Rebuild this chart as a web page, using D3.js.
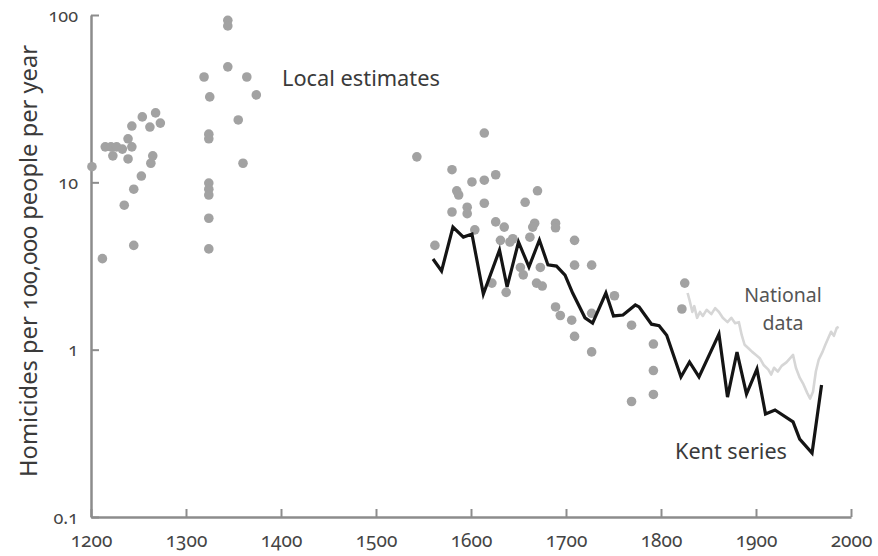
<!DOCTYPE html>
<html>
<head>
<meta charset="utf-8">
<script src="https://cdn.jsdelivr.net/npm/d3@7"></script>
<style>
  html, body { margin: 0; padding: 0; background: #fff; }
  svg { display: block; }
  text { font-family: "Noto Sans", "Open Sans", sans-serif; font-variant-numeric: oldstyle-nums; }
</style>
</head>
<body>
<svg id="chart" width="878" height="556"></svg>
<script>
// ---- Data ----
const localYears = [1201,1212,1245,1235,1245,1253,1263,1265,1239,1223,1215,1221,1227,1233,1243,1239,1243,1254,1262,1268,1273,
  1344,1344,1344,1319,1364,1325,1374,1355,1324,1324,1360,1324,1324,1324,1324,1324,
  1543,1562,1580,1585,1587,1580,1596,1596,1601,1614,1626,1614,1614,1604,1626,1635,1631,1644,1641,1622,1637,1657,1670,1667,1665,1662,1652,1655,1673,1669,1675,
  1689,1689,1709,1709,1727,1689,1694,1706,1727,1709,1727,1751,1769,1792,1792,1792,1769,1825,1822];
const localValues = [12.4,3.5,4.2,7.3,9.1,10.9,13.0,14.4,13.8,14.4,16.3,16.3,16.3,15.8,16.3,18.2,21.7,24.6,21.4,26,22.6,
  93,86,49,42.6,42.6,32.4,33.3,23.6,19.4,18.2,13.0,9.9,9.1,8.4,6.1,4.0,
  14.2,4.2,11.9,8.9,8.4,6.65,7.1,6.5,10.05,10.3,11.1,19.7,7.5,5.2,5.8,5.4,4.5,4.6,4.4,2.5,2.2,7.6,8.9,5.7,5.4,4.7,3.1,2.8,3.1,2.5,2.4,
  5.7,5.35,4.5,3.2,3.2,1.8,1.6,1.5,1.65,1.2,0.97,2.1,1.4,1.08,0.75,0.54,0.49,2.5,1.75];

const kentYears = [1560,1569,1581,1592,1601,1613,1630,1638,1650,1661,1672,1681,1690,1699,1707,1720,1728,1742,1750,1760,1773,1777,1790,1798,1806,1821,1830,1840,1861,1870,1880,1890,1901,1910,1920,1939,1946,1959,1969];
const kentValues = [3.48,2.95,5.41,4.71,4.91,2.15,3.94,2.37,4.40,3.12,4.52,3.21,3.16,2.79,2.18,1.55,1.44,2.18,1.59,1.61,1.85,1.80,1.42,1.39,1.22,0.687,0.844,0.687,1.24,0.521,0.968,0.543,0.766,0.413,0.436,0.370,0.292,0.241,0.615];

const nationalYears = [1828,1830,1833,1835,1838,1841,1844,1848,1853,1857,1861,1865,1870,1874,1878,1882,1885,1888,1892,1896,1900,1904,1908,1913,1916,1919,1923,1927,1932,1936,1939,1942,1946,1950,1954,1957,1960,1963,1966,1970,1973,1976,1979,1982,1985,1987];
const nationalValues = [2.18,1.98,1.68,1.82,1.55,1.68,1.59,1.73,1.63,1.77,1.68,1.55,1.46,1.55,1.44,1.46,1.22,1.07,1.02,0.97,0.93,0.89,0.81,0.76,0.71,0.78,0.74,0.80,0.84,0.89,0.93,0.78,0.68,0.62,0.55,0.51,0.56,0.74,0.87,0.97,1.07,1.17,1.28,1.21,1.35,1.37];

const xTickValues = [1200,1300,1400,1500,1600,1700,1800,1900,2000];
const yTickValues = [0.1,1,10,100];
const yTickLabels = ["0.1","1","10","100"];

const yAxisTitle = "Homicides per 100,000 people per year";
const labelLocal = "Local estimates";
const labelNational = ["National","data"];
const labelKent = "Kent series";

// ---- Chart ----
const svg = d3.select("#chart");
const x = d3.scaleLinear().domain([1200, 2000]).range([91, 851]);
const y = d3.scaleLog().domain([0.1, 100]).range([517, 15]);

const axisColor = "#8c8c8c";
const textColor = "#3a3a3a";

// axes
const xAxis = d3.axisBottom(x).tickValues(xTickValues).tickFormat(d3.format("d"))
  .tickSizeInner(-8).tickSizeOuter(0).tickPadding(17);
const gx = svg.append("g").attr("transform", "translate(0,517)").call(xAxis);

const yAxis = d3.axisLeft(y).tickValues(yTickValues)
  .tickFormat((d, i) => yTickLabels[i])
  .tickSizeInner(-8).tickSizeOuter(0).tickPadding(13);
const gy = svg.append("g").attr("transform", "translate(91,0)").call(yAxis);

[gx, gy].forEach(g => {
  g.select(".domain").attr("stroke", axisColor).attr("stroke-width", 2.5);
  g.selectAll(".tick line").attr("stroke", axisColor).attr("stroke-width", 2);
  g.selectAll(".tick text").attr("fill", "#444")
    .style("font-family", '"Noto Sans", sans-serif');
});
gx.selectAll(".tick text").style("font-size", "19px");
gy.selectAll(".tick text").style("font-size", "18px").attr("dy", "0.35em");

// national line
const nationalData = nationalYears.map((yr, i) => ({ yr, v: nationalValues[i] }));
svg.append("path").datum(nationalData)
  .attr("fill", "none").attr("stroke", "#d6d6d6").attr("stroke-width", 2.6)
  .attr("stroke-linejoin", "round")
  .attr("d", d3.line().x(d => x(d.yr)).y(d => y(d.v)));

// local estimates dots
const localData = localYears.map((yr, i) => ({ yr, v: localValues[i] }));
svg.append("g").selectAll("circle").data(localData).join("circle")
  .attr("cx", d => x(d.yr)).attr("cy", d => y(d.v)).attr("r", 4.8)
  .attr("fill", "#a2a2a2");

// kent line
const kentData = kentYears.map((yr, i) => ({ yr, v: kentValues[i] }));
svg.append("path").datum(kentData)
  .attr("fill", "none").attr("stroke", "#141414").attr("stroke-width", 3.2)
  .attr("stroke-linejoin", "miter")
  .attr("d", d3.line().x(d => x(d.yr)).y(d => y(d.v)));

// text helper: fit font size to a target width
function fit(t, width, base) {
  t.style("font-size", base + "px");
  const w = t.node().getComputedTextLength();
  t.style("font-size", (base * width / w).toFixed(2) + "px");
  return t;
}

const title = svg.append("text")
  .attr("transform", "translate(37,261) rotate(-90)")
  .attr("text-anchor", "middle").attr("fill", textColor)
  .text(yAxisTitle);
fit(title, 432, 20);

fit(svg.append("text").attr("x", 282).attr("y", 86).attr("fill", textColor).text(labelLocal), 158, 20);

// National data: two lines
svg.append("text").attr("x", 783).attr("y", 302).attr("text-anchor", "middle").attr("fill", "#555")
  .style("font-size", "19.5px").text(labelNational[0]);
svg.append("text").attr("x", 783).attr("y", 330).attr("text-anchor", "middle").attr("fill", "#555")
  .style("font-size", "19.5px").text(labelNational[1]);

fit(svg.append("text").attr("x", 675).attr("y", 459).attr("fill", textColor).text(labelKent), 112, 20);
</script>
</body>
</html>
